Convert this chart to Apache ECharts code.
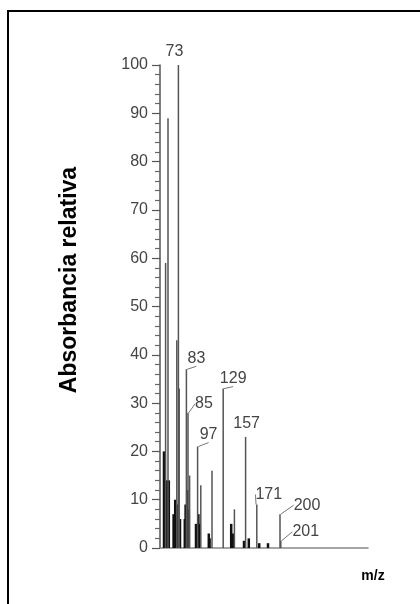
<!DOCTYPE html>
<html>
<head>
<meta charset="utf-8">
<script src="https://cdn.jsdelivr.net/npm/echarts@6/dist/echarts.min.js"></script>
<style>
  html, body { margin: 0; padding: 0; background: #fff; }
  #chart { width: 420px; height: 604px; }
</style>
</head>
<body>
<div id="chart"></div>
<script>
// main peaks (m/z, relative abundance)
var peakMz  = [57, 60, 71, 73, 74, 83, 85, 87, 97, 101, 115, 129, 143, 157, 171, 200, 201]
var peakInt = [59, 89, 43, 100, 33, 37, 28, 15, 21, 13, 16, 33, 8, 23, 9, 7, 1.5]
// peaks that carry an m/z label
var labelledMz = [73, 83, 85, 97, 129, 157, 171, 200, 201]
// small dark peaks around the bottom of the clusters
var smallMz  = [55, 56, 58, 59, 61, 67, 69, 70, 72, 75, 81, 82, 84, 86, 95, 98, 99, 111, 112, 139, 141, 155, 161, 174, 185]
var smallInt = [20, 10, 12, 14, 14, 7, 10, 6, 9, 6, 6, 9, 12, 8, 5, 7, 5, 3, 2, 5, 3, 1.5, 2, 1, 1]
var yTicks = [0, 100, 10]

// where each label sits relative to its peak top (px)
var labelShift = {73: [-4, 0], 83: [10, 2], 85: [16, 4], 97: [11, 1], 129: [10, 3], 157: [1, 0], 171: [12, 3], 200: [27, 4], 201: [25, 4]}
var noLeader = [73, 157]

var chart = echarts.init(document.getElementById('chart'))

var mainData = peakMz.map(function (m, i) {
  var item = {value: [m, peakInt[i]]}
  if (labelledMz.indexOf(m) >= 0) {
    item.label = {show: true}
    item.labelLine = {show: noLeader.indexOf(m) < 0}
  }
  return item
})
var smallData = smallMz.map(function (m, i) { return [m, smallInt[i]] })

var xCommon = {
  type: 'value',
  min: 50,
  max: 310,
  axisTick: {show: false},
  axisLabel: {show: false},
  splitLine: {show: false}
}

chart.setOption({
  animation: false,
  grid: {left: 160, top: 65, width: 208, height: 483},
  xAxis: [
    Object.assign({}, xCommon, {axisLine: {show: true, lineStyle: {color: '#888', width: 1.5}}}),
    Object.assign({}, xCommon, {axisLine: {show: false}})
  ],
  yAxis: {
    type: 'value',
    min: yTicks[0],
    max: yTicks[1],
    interval: yTicks[2],
    axisLine: {show: true, lineStyle: {color: '#555', width: 1.5}},
    axisTick: {show: true, length: 8, lineStyle: {color: '#555', width: 1.2}},
    minorTick: {show: true, splitNumber: 5, length: 5, lineStyle: {color: '#666', width: 1.2}},
    splitLine: {show: false},
    axisLabel: {color: '#444', fontSize: 16, fontFamily: 'Liberation Sans', margin: 12}
  },
  series: [
    {
      type: 'bar',
      xAxisIndex: 1,
      barWidth: 2.5,
      itemStyle: {color: '#111'},
      data: smallData
    },
    {
      type: 'bar',
      xAxisIndex: 0,
      barWidth: 1.5,
      itemStyle: {color: '#555'},
      label: {
        show: false,
        position: 'top',
        distance: 5,
        color: '#444',
        fontSize: 16,
        fontFamily: 'Liberation Sans',
        formatter: function (p) { return p.value[0] }
      },
      labelLine: {show: true, lineStyle: {color: '#777', width: 1}},
      labelLayout: function (p) {
        var s = labelShift[peakMz[p.dataIndex]]
        return s ? {dx: s[0], dy: s[1]} : {}
      },
      data: mainData
    }
  ],
  graphic: [
    {
      type: 'polyline',
      shape: {points: [[8, 604], [8, 11], [420, 11]]},
      style: {stroke: '#000', lineWidth: 2, fill: null}
    },
    {
      type: 'text',
      x: 70,
      y: 280,
      rotation: Math.PI / 2,
      style: {
        text: 'Absorbancia relativa',
        fill: '#000',
        font: 'bold 23px "Liberation Sans"',
        textAlign: 'center',
        textVerticalAlign: 'middle'
      }
    },
    {
      type: 'text',
      x: 373,
      y: 576,
      style: {
        text: 'm/z',
        fill: '#000',
        font: 'bold 14px "Liberation Sans"',
        textAlign: 'center',
        textVerticalAlign: 'middle'
      }
    }
  ]
})
</script>
</body>
</html>
